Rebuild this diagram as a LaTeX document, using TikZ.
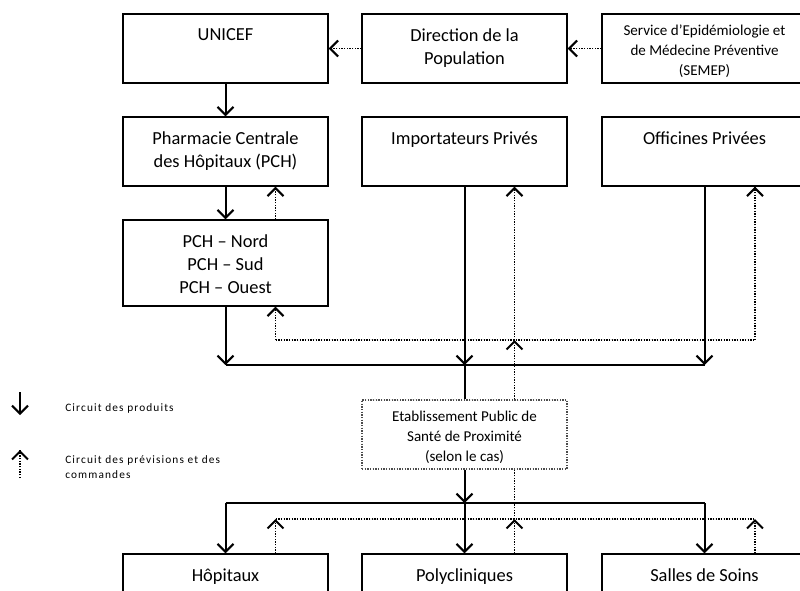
\documentclass[tikz,border=0pt]{standalone}
\usepackage{fontspec}
\setmainfont{Carlito}
\usepackage{tikz}
\usetikzlibrary{arrows.meta}
\usetikzlibrary{decorations.markings}
\usetikzlibrary{positioning}

\begin{document}
\begin{tikzpicture}[x=0.75pt,y=-0.75pt,
  box/.style={draw,line width=1.1pt,minimum width=153.75pt,minimum height=51.75pt,inner sep=0pt},
  tall/.style={minimum height=64.5pt},
  txt/.style={anchor=north,inner sep=0pt,yshift=-11.5pt,align=center,font=\fontsize{13.8}{17.25}\selectfont},
  small/.style={anchor=north,inner sep=0pt,yshift=-8.5pt,align=center,font=\fontsize{11.3}{15}\selectfont},
  leg/.style={anchor=west,inner sep=0pt,align=left,font=\fontsize{8.5}{11}\selectfont\addfontfeature{LetterSpace=10}},
  prod/.style={line width=1.5pt,-{Straight Barb[length=6pt,width=12pt]}},
  bus/.style={line width=1.5pt},
  dots/.style={line width=1.1pt,dash pattern=on 1pt off 1pt},
  prev/.style={dots,decoration={markings,mark=at position 1 with
    {\pgfsetdash{}{0pt}\pgfsetlinewidth{1.5pt}\arrow{Straight Barb[length=6pt,width=12pt]}}},
    postaction={decorate}}]
\useasboundingbox (0,0) rectangle (800,590);
\clip (0,0) rectangle (800,590);
\node[box,label={[txt]north:UNICEF}] (unicef) at (225.5,48.5) {};
\node[box,label={[txt]north:Direction de la\\Population}] (dirpop) at (464.5,48.5) {};
\node[box,label={[small]north:Service d’Epidémiologie et\\de Médecine Préventive\\(SEMEP)}] (semep) at (704.5,48.5) {};
\node[box,label={[txt]north:Pharmacie Centrale\\des Hôpitaux (PCH)}] (pch) at (225.5,151.5) {};
\node[box,label={[txt]north:Importateurs Privés}] (import) at (464.5,151.5) {};
\node[box,label={[txt]north:Officines Privées}] (offic) at (704.5,151.5) {};
\node[box,tall,label={[txt]north:PCH – Nord\\PCH – Sud\\PCH – Ouest}] (pchreg) at (225.5,263) {};
\node[box,dots,draw=black!70,label={[small]north:Etablissement Public de\\Santé de Proximité\\(selon le cas)}] (epsp) at (464.5,434.5) {};
\node[box,label={[txt]north:Hôpitaux}] (hopit) at (225.5,588.5) {};
\node[box,label={[txt]north:Polycliniques}] (polyc) at (464.5,588.5) {};
\node[box,label={[txt]north:Salles de Soins}] (salles) at (704.5,588.5) {};

\coordinate (busP) at (0,365);
\coordinate (busC) at (0,340);
\coordinate (busB) at (0,503);
\coordinate (busD) at (0,519);
\coordinate (d1) at (275.5,0);
\coordinate (d2) at (514.5,0);
\coordinate (d3) at (755,0);

\draw[prev] (dirpop) -- (unicef);
\draw[prev] (semep) -- (dirpop);
\draw[prod] (unicef) -- (pch);
\draw[prod] (pch) -- (pchreg);
\draw[prev] (d1 |- pchreg.north) -- (d1 |- pch.south);

\draw[bus] (pchreg |- busP) -- (offic |- busP);
\draw[bus] (import |- busP) -- (epsp);
\draw[prod] (pchreg) -- (pchreg |- busP);
\draw[prod] (import) -- (import |- busP);
\draw[prod] (offic) -- (offic |- busP);
\draw[dots] (d1 |- busC) -- (d3 |- busC);
\draw[prev] (d1 |- busC) -- (d1 |- pchreg.south);
\draw[prev] (d2 |- epsp.north) -- (d2 |- busC);
\draw[prev] (d2 |- busC) -- (d2 |- import.south);
\draw[prev] (d3 |- busC) -- (d3 |- offic.south);

\draw[prod] (epsp) -- (epsp |- busB);
\draw[bus] (hopit |- busB) -- (salles |- busB);
\draw[prod] (hopit |- busB) -- (hopit);
\draw[prod] (polyc |- busB) -- (polyc);
\draw[prod] (salles |- busB) -- (salles);
\draw[dots] (d1 |- busD) -- (d3 |- busD);
\draw[dots] (d2 |- busD) -- (d2 |- epsp.south);
\draw[prev] (d1 |- hopit.north) -- (d1 |- busD);
\draw[prev] (d2 |- polyc.north) -- (d2 |- busD);
\draw[prev] (d3 |- salles.north) -- (d3 |- busD);

\coordinate (legPa) at (20,392);
\coordinate (legPb) at (20,415);
\coordinate (legCa) at (20,478);
\coordinate (legCb) at (20,450);
\draw[prod] (legPa) -- (legPb);
\draw[prev] (legCa) -- (legCb);
\node[leg] (legP) at (65,408) {Circuit des produits};
\node[leg] (legC) at (65,467) {Circuit des prévisions et des\\commandes};
\end{tikzpicture}
\end{document}
